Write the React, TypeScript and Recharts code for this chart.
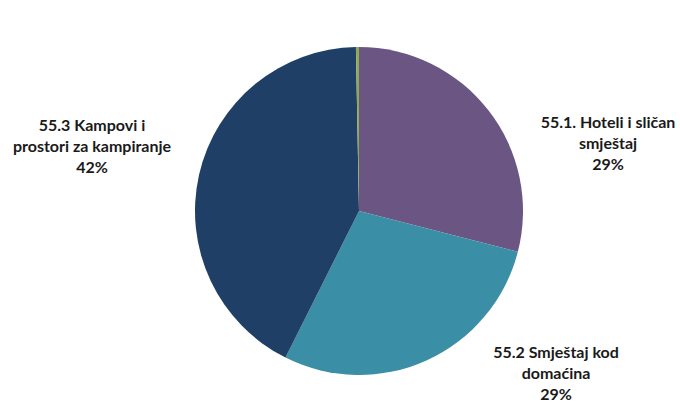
import { PieChart, Pie, Cell } from "recharts";

const categories = [
  ["55.1. Hoteli i sličan", "smještaj"],
  ["55.2 Smještaj kod", "domaćina"],
  ["55.3 Kampovi i", "prostori za kampiranje"],
  ["55.9 Ostali smještaj"],
];
const shares = [29.0, 28.4, 42.3, 0.3];
const percentLabels = ["29%", "29%", "42%", ""];
const colors = ["#6B5583", "#3A8FA6", "#1F3F66", "#8FAA55"];

// label block centres, relative to the pie centre
const LABEL_OFFSETS = [
  { dx: 249, dy: -69 },
  { dx: 197, dy: 161 },
  { dx: -267, dy: -66 },
  { dx: 0, dy: 0 },
];

const data = categories.map((lines, i) => ({
  name: lines.join(" "),
  value: shares[i],
}));

function renderLabel(props: any) {
  const { cx, cy, index } = props;
  if (!percentLabels[index]) return null;
  const off = LABEL_OFFSETS[index];
  const lines = [...categories[index], percentLabels[index]];
  const lh = 21;
  const top = cy + off.dy - ((lines.length - 1) * lh) / 2;
  return (
    <text
      key={`lbl-${index}`}
      x={cx + off.dx}
      y={top}
      textAnchor="middle"
      dominantBaseline="central"
      fontFamily="Lato, 'Open Sans', sans-serif"
      fontSize={16}
      fontWeight="bold"
      fill="#1a1a1a"
    >
      {lines.map((l, j) => (
        <tspan key={j} x={cx + off.dx} y={top + j * lh}>
          {l}
        </tspan>
      ))}
    </text>
  );
}

export default function App() {
  return (
    <div style={{ position: "absolute", left: 0, top: 0, width: 680, height: 403, background: "#fff" }}>
      <PieChart width={680} height={403} margin={{ top: 0, right: 0, bottom: 0, left: 0 }}>
        <Pie
          data={data}
          dataKey="value"
          cx={359}
          cy={211}
          outerRadius={164}
          startAngle={90}
          endAngle={-270}
          stroke="none"
          labelLine={false}
          label={renderLabel}
          isAnimationActive={false}
        >
          {data.map((d, i) => (
            <Cell key={d.name} fill={colors[i]} />
          ))}
        </Pie>
      </PieChart>
    </div>
  );
}
